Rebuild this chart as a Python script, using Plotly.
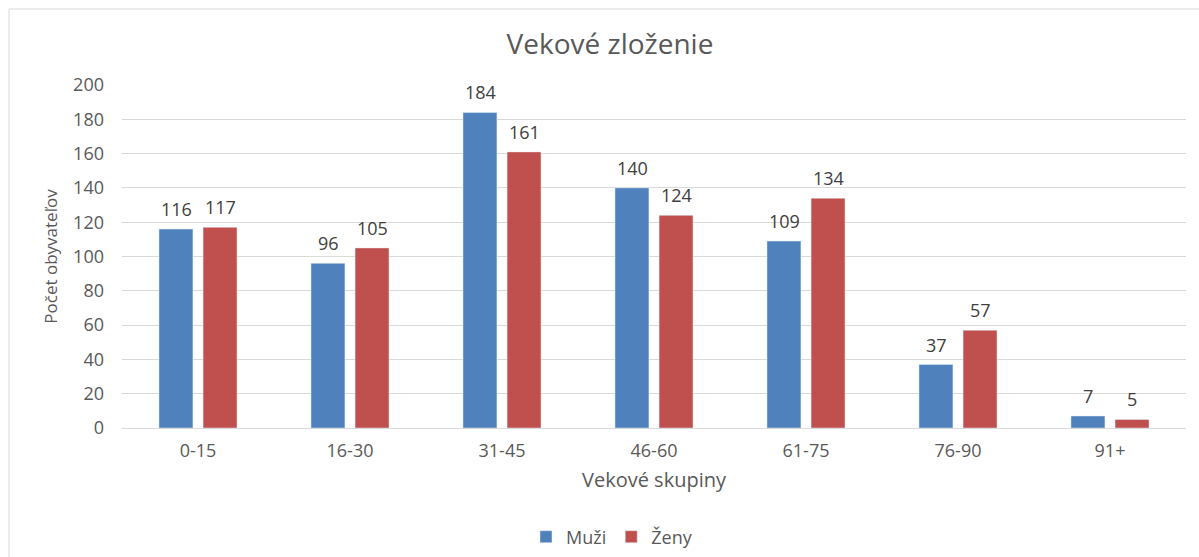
import plotly.graph_objects as go

categories = ["0-15", "16-30", "31-45", "46-60", "61-75", "76-90", "91+"]
muzi = [116, 96, 184, 140, 109, 37, 7]
zeny = [117, 105, 161, 124, 134, 57, 5]
y_ticks = [0, 20, 40, 60, 80, 100, 120, 140, 160, 180, 200]

FONT = "Open Sans, sans-serif"

W, H = 1199, 557
L, R, T, B = 122, 13, 85, 129
PW, PH = W - L - R, H - T - B

fig = go.Figure()
fig.add_trace(go.Bar(name="Muži", x=categories, y=muzi, marker_color="#4F81BD"))
fig.add_trace(go.Bar(name="Ženy", x=categories, y=zeny, marker_color="#C0504D"))

# value labels above each bar (bar slot is ~44 px wide, so centres at ±22 px)
for vals, shift in ((muzi, -22), (zeny, 22)):
    for c, v in zip(categories, vals):
        fig.add_annotation(x=c, y=v, xref="x", yref="y", text=str(v), showarrow=False,
                           xshift=shift, yshift=20, yanchor="middle", xanchor="center",
                           font=dict(size=18, color="#404040", family=FONT))

fig.update_layout(
    width=W, height=H,
    margin=dict(l=L, r=R, t=T, b=B, autoexpand=False),
    paper_bgcolor="white", plot_bgcolor="white",
    font=dict(family=FONT, color="#595959"),
    title=dict(text="Vekové zloženie", x=(610 - L) / PW, xanchor="center",
               xref="paper", yref="container", y=1 - 44 / H, yanchor="middle",
               font=dict(size=28, color="#595959", family=FONT)),
    barmode="group", bargap=0.42, bargroupgap=0.23,
    legend=dict(orientation="h", x=(612 - L) / PW, xanchor="center",
                y=-(537 - 428) / PH, yanchor="middle",
                font=dict(size=18, color="#595959", family=FONT), traceorder="normal"),
    xaxis=dict(title=dict(text="Vekové skupiny", font=dict(size=20, color="#595959"), standoff=12),
               tickfont=dict(size=18, color="#595959"), showline=True, linecolor="#d9d9d9",
               linewidth=1, ticks="", ticklabelstandoff=6),
    yaxis=dict(title=dict(text="Počet obyvateľov", font=dict(size=17, color="#595959"), standoff=11),
               range=[0, 200], tickvals=y_ticks, tickfont=dict(size=18, color="#595959"),
               gridcolor="#d9d9d9", gridwidth=1, zeroline=False, showline=False, ticks="",
               ticklabelstandoff=17),
    showlegend=True,
)

fig.add_shape(type="rect", xref="paper", yref="paper",
              x0=(9 - L) / PW, x1=1.05, y0=-0.6, y1=(428 - 9) / PH,
              line=dict(color="#d9d9d9", width=1), fillcolor="rgba(0,0,0,0)", layer="below")

post = ("document.documentElement.style.margin='0';"
        "document.documentElement.style.overflow='hidden';"
        "document.body.style.margin='0';"
        "document.body.style.overflow='hidden';"
        "document.body.style.height='557px';")

fig.write_html("out.html", post_script=post, config={"displayModeBar": False})
